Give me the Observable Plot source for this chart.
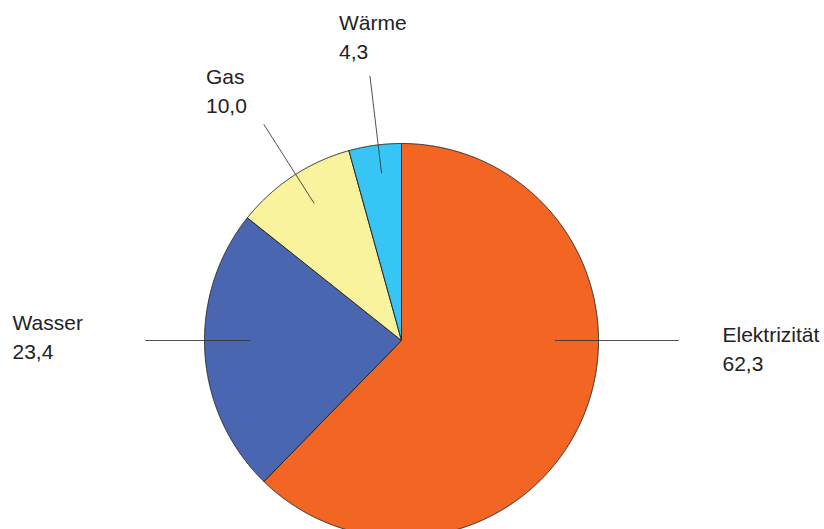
<!DOCTYPE html>
<html>
<head>
<meta charset="utf-8">
<script src="https://cdn.jsdelivr.net/npm/d3@7"></script>
<script src="https://cdn.jsdelivr.net/npm/@observablehq/plot@0.6"></script>
<style>
  html, body { margin: 0; padding: 0; background: #fff; overflow: hidden; }
  #chart svg { display: block; }
</style>
</head>
<body>
<div id="chart"></div>
<script>
// ---- data ----
const categories = ["Elektrizität", "Wasser", "Gas", "Wärme"];
const values = [62.3, 23.4, 10.0, 4.3];
const valueLabels = ["62,3", "23,4", "10,0", "4,3"];
const colors = ["#F26522", "#4A66B0", "#FAF39E", "#36C5F4"];

// ---- layout (pixels) ----
const W = 824, H = 529;
const R = 197;             // pie radius in px
const CX = 401, CY = 340;  // pie centre in px
// leader line: angle (deg clockwise from top), inner/outer radius (px); label offset from outer end (px)
const leaders = {
  "Elektrizität": {angle: 90, r1: 154, r2: 277, dx: 44, dy: -19},
  "Wasser":       {angle: 270, r1: 152, r2: 256, dx: -133, dy: -31},
  "Gas":          {angle: -32.5, r1: 163, r2: 256, dx: -58, dy: -61},
  "Wärme":        {angle: -6.8, r1: 169, r2: 266, dx: -31, dy: -67}
};

// pie in unit coordinates (radius 1), angles clockwise from top
const pie = d3.pie().sort(null).startAngle(0).endAngle(2 * Math.PI)(values);
const slicePts = [];
pie.forEach((p, i) => {
  const cat = categories[i];
  slicePts.push({cat, x: 0, y: 0});
  const n = Math.max(2, Math.ceil((p.endAngle - p.startAngle) / (Math.PI / 720)));
  for (let k = 0; k <= n; k++) {
    const a = p.startAngle + (p.endAngle - p.startAngle) * k / n;
    slicePts.push({cat, x: Math.sin(a), y: Math.cos(a)});
  }
  slicePts.push({cat, x: 0, y: 0});
});

const leaderPts = [];
const labelRows = [];
categories.forEach((cat, i) => {
  const L = leaders[cat];
  const a = L.angle * Math.PI / 180;
  leaderPts.push({cat, x: L.r1 / R * Math.sin(a), y: L.r1 / R * Math.cos(a)});
  leaderPts.push({cat, x: L.r2 / R * Math.sin(a), y: L.r2 / R * Math.cos(a)});
  labelRows.push({
    text: cat + "\n" + valueLabels[i],
    x: (L.r2 * Math.sin(a) + L.dx) / R,
    y: (L.r2 * Math.cos(a) - L.dy) / R
  });
});

const chart = Plot.plot({
  width: W,
  height: H,
  margin: 0,
  style: {background: "#fff", overflow: "hidden"},
  x: {domain: [-CX / R, (W - CX) / R], axis: null},
  y: {domain: [(CY - H) / R, CY / R], axis: null},
  color: {domain: categories, range: colors, type: "ordinal"},
  marks: [
    Plot.line(slicePts, {x: "x", y: "y", z: "cat", fill: "cat", stroke: "#2b2b2b", strokeWidth: 1, strokeLinejoin: "round", curve: "linear"}),
    Plot.line(leaderPts, {x: "x", y: "y", z: "cat", stroke: "#333", strokeWidth: 1, strokeOpacity: 0.85}),
    Plot.text(labelRows, {x: "x", y: "y", text: "text", textAnchor: "start", lineAnchor: "top", lineHeight: 1.37, fontSize: 21, fontFamily: "Liberation Sans, Arial, sans-serif", fill: "#222"})
  ]
});
document.getElementById("chart").appendChild(chart);
</script>
</body>
</html>
